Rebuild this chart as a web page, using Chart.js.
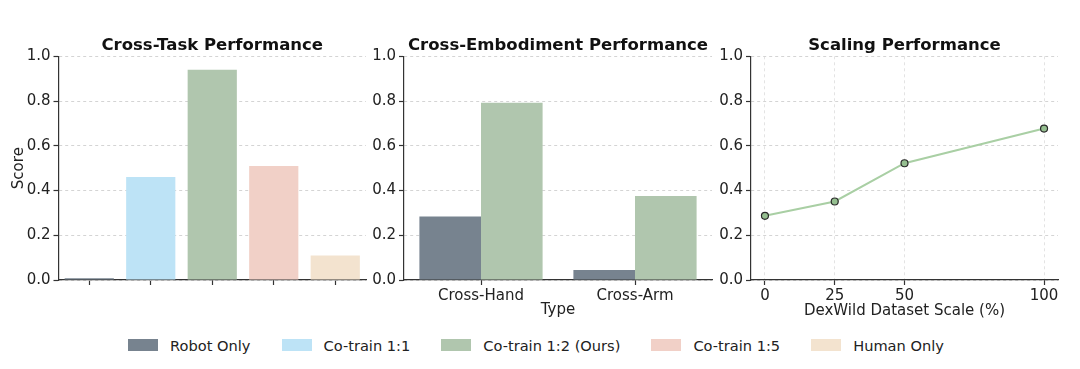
<!DOCTYPE html>
<html>
<head>
<meta charset="utf-8">
<script src="https://cdn.jsdelivr.net/npm/chart.js@4.4.1/dist/chart.umd.min.js"></script>
<style>
  body { margin: 0; background: #fff; width: 1080px; height: 369px; overflow: hidden; position: relative; font-family: "DejaVu Sans", sans-serif; }
  .panel { position: absolute; top: 0; height: 330px; }
  #legend { position: absolute; left: -4px; top: 333px; width: 1080px; height: 24px; display: flex; justify-content: center; align-items: center; font-size: 14.6px; color: #222; }
  .item { display: flex; align-items: center; margin: 0 15.5px; }
  .box { width: 30px; height: 12px; margin-right: 12px; }
</style>
</head>
<body>
<div class="panel" style="left:0;width:372px"><canvas id="taskChart" width="372" height="330"></canvas></div>
<div class="panel" style="left:370px;width:350px"><canvas id="embChart" width="350" height="330"></canvas></div>
<div class="panel" style="left:720px;width:360px"><canvas id="scaleChart" width="360" height="330"></canvas></div>
<div id="legend"></div>
<script>
// series names + colours (shared legend)
const seriesNames = ["Robot Only", "Co-train 1:1", "Co-train 1:2 (Ours)", "Co-train 1:5", "Human Only"];
const seriesColors = ["#77838f", "#bde3f6", "#b0c6ae", "#f1d0c7", "#f3e3cf"];

// cross-task scores, one per series
const taskScores = [0.008, 0.46, 0.94, 0.51, 0.11];

// cross-embodiment
const embTypes = ["Cross-Hand", "Cross-Arm"];
const embRobot = [0.284, 0.045];
const embOurs = [0.792, 0.375];

// scaling
const scalePct = [0, 25, 50, 100];
const scaleScores = [0.287, 0.351, 0.522, 0.677];

const yTicks = [0, 0.2, 0.4, 0.6, 0.8, 1.0];

Chart.defaults.font.family = "'DejaVu Sans', sans-serif";
Chart.defaults.font.size = 15;
Chart.defaults.color = "#222";
Chart.defaults.animation = false;

function spine(dash) {
    return { display: true, color: "#333", width: 1.2, dash: dash };
}

function yAxis(width, showTitle) {
    return {
        min: 0, max: 1,
        afterBuildTicks: s => { s.ticks = yTicks.map(v => ({ value: v })); },
        afterFit: s => { s.width = width; },
        ticks: { padding: 3, callback: v => v.toFixed(1) },
        grid: { color: "#d4d4d4", tickLength: 5, tickColor: "#333", tickBorderDash: [], tickWidth: 1.2 },
        border: spine([3, 3]),
        title: { display: showTitle, text: "Score", padding: { top: 10, bottom: 0 } }
    };
}

function titleOpt(text) {
    return {
        display: true, text: text, fullSize: false,
        font: { size: 16.5, weight: "bold" }, color: "#111",
        padding: { top: 36, bottom: 0.5 }
    };
}

// Cross-Task
new Chart(document.getElementById("taskChart"), {
    type: "bar",
    data: {
        labels: seriesNames,
        datasets: [{
            data: taskScores,
            backgroundColor: seriesColors,
            barPercentage: 0.8,
            categoryPercentage: 1
        }]
    },
    options: {
        responsive: false,
        layout: { padding: { left: 0, right: 6, top: 0, bottom: 0 } },
        plugins: { legend: { display: false }, tooltip: { enabled: false }, title: titleOpt("Cross-Task Performance") },
        scales: {
            x: {
                afterFit: s => { s.height = 50; },
                ticks: { callback: () => "" },
                grid: { offset: false, drawOnChartArea: false, tickLength: 5, tickColor: "#333", tickWidth: 1.2 },
                border: spine([])
            },
            y: yAxis(58.5, true)
        }
    }
});

// Cross-Embodiment
new Chart(document.getElementById("embChart"), {
    type: "bar",
    data: {
        labels: embTypes,
        datasets: [
            { label: seriesNames[0], data: embRobot, backgroundColor: seriesColors[0] },
            { label: seriesNames[2], data: embOurs, backgroundColor: seriesColors[2] }
        ]
    },
    options: {
        responsive: false,
        datasets: { bar: { barPercentage: 1, categoryPercentage: 0.8 } },
        layout: { padding: { left: 0, right: 8, top: 0, bottom: 0 } },
        plugins: { legend: { display: false }, tooltip: { enabled: false }, title: titleOpt("Cross-Embodiment Performance") },
        scales: {
            x: {
                afterFit: s => { s.height = 50; },
                ticks: { padding: 2 },
                grid: { offset: false, drawOnChartArea: false, tickLength: 5, tickColor: "#333", tickWidth: 1.2 },
                border: spine([]),
                title: { display: true, text: "Type", padding: { top: 0, bottom: 11 } }
            },
            y: yAxis(34, false)
        }
    }
});

// Scaling
new Chart(document.getElementById("scaleChart"), {
    type: "line",
    data: {
        datasets: [{
            data: scalePct.map((p, i) => ({ x: p, y: scaleScores[i] })),
            borderColor: "#a9cfa4",
            borderWidth: 2,
            pointRadius: 3.5,
            pointBackgroundColor: "#95bf90",
            pointBorderColor: "#2a2a2a",
            pointBorderWidth: 1.2,
            tension: 0
        }]
    },
    options: {
        responsive: false,
        layout: { padding: { left: 0, right: 22, top: 0, bottom: 0 } },
        plugins: { legend: { display: false }, tooltip: { enabled: false }, title: titleOpt("Scaling Performance") },
        scales: {
            x: {
                type: "linear", min: -5, max: 105,
                afterBuildTicks: s => { s.ticks = scalePct.map(v => ({ value: v })); },
                afterFit: s => { s.height = 50; },
                ticks: { padding: 2 },
                grid: { color: "#e3e3e3", tickLength: 5, tickColor: "#333", tickBorderDash: [], tickWidth: 1.2 },
                border: spine([3, 3]),
                title: { display: true, text: "DexWild Dataset Scale (%)", padding: { top: 0, bottom: 10 } }
            },
            y: yAxis(31, false)
        }
    }
});

// shared legend
const legend = document.getElementById("legend");
seriesNames.forEach((name, i) => {
    const item = document.createElement("div");
    item.className = "item";
    const box = document.createElement("span");
    box.className = "box";
    box.style.background = seriesColors[i];
    const txt = document.createElement("span");
    txt.textContent = name;
    item.appendChild(box);
    item.appendChild(txt);
    legend.appendChild(item);
});
</script>
</body>
</html>
